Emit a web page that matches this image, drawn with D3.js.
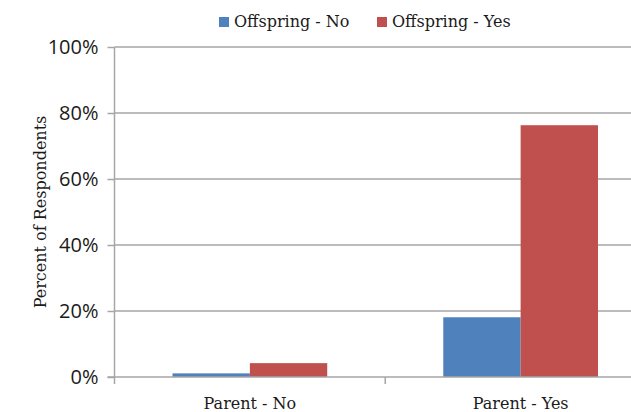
<!DOCTYPE html>
<html>
<head>
<meta charset="utf-8">
<script src="https://cdn.jsdelivr.net/npm/d3@7"></script>
<style>
  html, body { margin: 0; padding: 0; background: #fff; overflow: hidden; }
  svg { display: block; }
</style>
</head>
<body>
<svg id="chart" width="631" height="412"></svg>
<script>
// Share of respondents by parent status, split by offspring status
const categories = ["Parent - No", "Parent - Yes"];
const seriesNames = ["Offspring - No", "Offspring - Yes"];
const offspringNo = [0.011, 0.181];
const offspringYes = [0.042, 0.763];
const yTicks = [0, 0.2, 0.4, 0.6, 0.8, 1.0];
const yTitle = "Percent of Respondents";

const colors = { "Offspring - No": "#4f81bd", "Offspring - Yes": "#c0504d" };
const gridColor = "#a6a6a6";
const serif = "'DejaVu Serif', 'Liberation Serif', serif";
const sans = "'Open Sans', 'Liberation Sans', sans-serif";

const svg = d3.select("#chart");
const plot = { left: 114.5, right: 656, top: 47, bottom: 377 };

const x0 = d3.scaleBand().domain(categories).range([plot.left, plot.right]).padding(0);
const x1 = d3.scaleBand().domain(seriesNames).range([0, x0.bandwidth()])
  .paddingInner(0).paddingOuter(0.75);
const y = d3.scaleLinear().domain([0, 1]).range([plot.bottom, plot.top]);

const rows = categories.map((c, i) => ({
  category: c,
  values: [
    { name: seriesNames[0], value: offspringNo[i] },
    { name: seriesNames[1], value: offspringYes[i] }
  ]
}));

// horizontal gridlines
svg.append("g").selectAll("line").data(yTicks.slice(1)).join("line")
  .attr("x1", plot.left).attr("x2", plot.right)
  .attr("y1", d => y(d)).attr("y2", d => y(d))
  .attr("stroke", gridColor).attr("stroke-width", 1.5);

// bars
svg.append("g").selectAll("g").data(rows).join("g")
  .attr("transform", d => `translate(${x0(d.category)},0)`)
  .selectAll("rect").data(d => d.values).join("rect")
  .attr("x", d => x1(d.name))
  .attr("width", x1.bandwidth())
  .attr("y", d => y(d.value))
  .attr("height", d => y(0) - y(d.value))
  .attr("fill", d => colors[d.name]);

// y axis
const yAxis = svg.append("g")
  .attr("transform", `translate(${plot.left},0)`)
  .call(d3.axisLeft(y).tickValues(yTicks).tickFormat(d3.format(".0%")).tickSize(7).tickPadding(9));
yAxis.select(".domain").remove();
yAxis.selectAll(".tick line").attr("stroke", gridColor).attr("stroke-width", 1.5);
yAxis.selectAll(".tick text")
  .attr("fill", "#1a1a1a").style("font-family", sans).style("font-size", "20px");
yAxis.append("line")
  .attr("x1", 0).attr("x2", 0).attr("y1", plot.top).attr("y2", plot.bottom + 7)
  .attr("stroke", gridColor).attr("stroke-width", 1.5);

// x axis
const xAxis = svg.append("g")
  .attr("transform", `translate(0,${plot.bottom})`);
xAxis.append("line")
  .attr("x1", plot.left - 7).attr("x2", plot.right)
  .attr("stroke", gridColor).attr("stroke-width", 1.5);
xAxis.selectAll("line.tick").data(categories.slice(1)).join("line")
  .attr("class", "tick")
  .attr("x1", d => x0(d)).attr("x2", d => x0(d))
  .attr("y1", 0).attr("y2", 7)
  .attr("stroke", gridColor).attr("stroke-width", 1.5);
xAxis.selectAll("text").data(categories).join("text")
  .attr("x", d => x0(d) + x0.bandwidth() / 2)
  .attr("y", 32)
  .attr("text-anchor", "middle")
  .attr("fill", "#1a1a1a")
  .style("font-family", serif).style("font-size", "16px")
  .text(d => d);

// y axis title
svg.append("text")
  .attr("transform", `translate(46,${(plot.top + plot.bottom) / 2}) rotate(-90)`)
  .attr("text-anchor", "middle")
  .attr("fill", "#1a1a1a")
  .style("font-family", serif).style("font-size", "16px")
  .text(yTitle);

// legend
const legendX = [219, 377];
const legend = svg.append("g").selectAll("g").data(seriesNames).join("g")
  .attr("transform", (d, i) => `translate(${legendX[i]},17)`);
legend.append("rect").attr("width", 10).attr("height", 10).attr("fill", d => colors[d]);
legend.append("text")
  .attr("x", 15).attr("y", 10)
  .attr("fill", "#1a1a1a")
  .style("font-family", serif).style("font-size", "16px")
  .text(d => d);
</script>
</body>
</html>
